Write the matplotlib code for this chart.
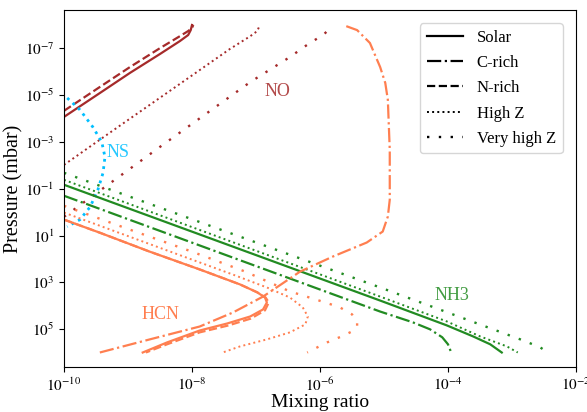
import numpy as np
import matplotlib
matplotlib.use("Agg")
import matplotlib.pyplot as plt
from matplotlib.lines import Line2D

plt.rcParams['font.family'] = ['Liberation Serif', 'DejaVu Serif']
plt.rcParams['mathtext.fontset'] = 'stix'

# curves, as log10(mixing ratio) and log10(pressure / mbar)
# NO
no_solar_x = [-10.0, -9.44, -8.97, -8.50, -8.19, -8.06, -8.02, -8.00]
no_solar_p = [-4.07, -5.09, -5.95, -6.76, -7.31, -7.57, -7.78, -8.00]
no_nrich_x = [-10.0, -9.44, -8.97, -8.50, -8.19, -8.06, -8.00, -7.98]
no_nrich_p = [-4.33, -5.35, -6.20, -7.01, -7.52, -7.74, -7.87, -8.00]
no_highz_x = [-10.0, -9.13, -8.19, -7.41, -7.09, -6.98, -6.94]
no_highz_p = [-2.02, -3.69, -5.48, -6.97, -7.52, -7.74, -8.00]
no_vhighz_x = [-10.0, -8.50, -7.09, -6.47, -6.16, -5.95, -5.84, -5.83]
no_vhighz_p = [0.20, -2.79, -5.56, -6.63, -7.23, -7.57, -7.87, -8.00]

# NS
ns_x = [-9.95, -9.75, -9.55, -9.41, -9.36, -9.39, -9.47, -9.59, -9.75, -9.95]
ns_p = [-4.88, -4.37, -3.64, -3.00, -2.36, -1.68, -0.96, -0.23, 0.32, 0.62]

# NH3
nh3_solar_x = [-10.0, -5.06, -4.02, -3.61, -3.34, -3.16]
nh3_solar_p = [-1.17, 3.78, 4.84, 5.31, 5.65, 6.00]
nh3_crich_x = [-10.0, -5.06, -4.55, -4.28, -4.09, -4.00, -3.95]
nh3_crich_p = [-0.70, 4.25, 4.71, 5.01, 5.35, 5.65, 6.00]
nh3_highz_x = [-10.0, -5.06, -4.02, -3.50, -3.08, -2.91]
nh3_highz_p = [-1.38, 3.61, 4.67, 5.31, 5.74, 6.00]
nh3_vhighz_x = [-10.0, -5.02, -3.63, -2.83, -2.56, -2.44]
nh3_vhighz_p = [-1.68, 3.26, 4.67, 5.48, 5.78, 6.00]

# HCN
hcn_solar_x = [-10.0, -9.44, -8.66, -7.88, -7.25, -6.98, -6.86, -6.83,
               -6.89, -7.09, -7.45, -7.88, -8.39, -8.77]
hcn_solar_p = [0.32, 0.88, 1.69, 2.45, 3.09, 3.43, 3.65, 3.86,
               4.16, 4.46, 4.76, 5.06, 5.57, 6.00]
hcn_nrich_x = [-10.0, -9.44, -8.66, -7.88, -7.25, -6.98, -6.85, -6.80,
               -6.86, -7.08, -7.44, -7.88, -8.39, -8.72]
hcn_nrich_p = [0.32, 0.88, 1.69, 2.45, 3.09, 3.43, 3.65, 3.86,
               4.20, 4.55, 4.85, 5.14, 5.65, 6.00]
hcn_crich_x = [-9.44, -8.66, -7.88, -7.36, -6.89, -6.31, -5.80, -5.27, -5.02,
               -4.94, -4.91, -4.91, -4.94, -4.98, -5.06, -5.22, -5.42, -5.64]
hcn_crich_p = [6.00, 5.44, 4.89, 4.29, 3.61, 2.54, 1.90, 1.30, 0.83,
               0.19, -0.53, -2.66, -4.80, -5.52, -6.20, -7.23, -7.78, -8.00]
hcn_highz_x = [-10.0, -7.88, -7.36, -6.83, -6.47, -6.27, -6.19, -6.23,
               -6.47, -6.83, -7.25, -7.52]
hcn_highz_p = [0.02, 2.15, 2.67, 3.22, 3.65, 4.07, 4.46, 4.80,
               5.14, 5.44, 5.74, 6.00]
hcn_vhighz_x = [-10.0, -8.97, -8.00, -7.17, -6.47, -5.92, -5.69, -5.50,
                -5.42, -5.42, -5.50, -5.66, -5.89, -6.20]
hcn_vhighz_p = [-0.27, 0.75, 1.69, 2.54, 3.39, 3.86, 4.07, 4.37,
                4.67, 4.89, 5.10, 5.31, 5.57, 6.00]

c_no = '#a52a2a'
c_ns = '#00bfff'
c_nh3 = '#228b22'
c_hcn = '#ff7f50'

styles = {
    'Solar': dict(ls='-', lw=1.6),
    'C-rich': dict(ls='-.', lw=1.6),
    'N-rich': dict(ls='--', lw=1.6),
    'High Z': dict(ls=':', lw=1.4),
    'Very high Z': dict(ls=(0, (1, 4)), lw=1.7),
}

curves = [
    (no_solar_x, no_solar_p, c_no, 'Solar'),
    (no_nrich_x, no_nrich_p, c_no, 'N-rich'),
    (no_highz_x, no_highz_p, c_no, 'High Z'),
    (no_vhighz_x, no_vhighz_p, c_no, 'Very high Z'),
    (ns_x, ns_p, c_ns, 'High Z'),
    (nh3_solar_x, nh3_solar_p, c_nh3, 'Solar'),
    (nh3_crich_x, nh3_crich_p, c_nh3, 'C-rich'),
    (nh3_highz_x, nh3_highz_p, c_nh3, 'High Z'),
    (nh3_vhighz_x, nh3_vhighz_p, c_nh3, 'Very high Z'),
    (hcn_solar_x, hcn_solar_p, c_hcn, 'Solar'),
    (hcn_nrich_x, hcn_nrich_p, c_hcn, 'N-rich'),
    (hcn_crich_x, hcn_crich_p, c_hcn, 'C-rich'),
    (hcn_highz_x, hcn_highz_p, c_hcn, 'High Z'),
    (hcn_vhighz_x, hcn_vhighz_p, c_hcn, 'Very high Z'),
]

fig = plt.figure(figsize=(5.87, 4.12), dpi=100)
ax = fig.add_axes([64 / 587, 1 - 367 / 412, 512 / 587, 357 / 412])

for lx, lp, col, case in curves:
    st = styles[case]
    width = 2.0 if col == c_ns else st['lw']
    ax.plot(10 ** np.array(lx), 10 ** np.array(lp), color=col,
            ls=st['ls'], lw=width)

# species labels
ax.text(10 ** -6.66, 10 ** -5.14, 'NO', color=c_no, alpha=0.85, fontsize=13,
        ha='center', va='center')
ax.text(10 ** -9.16, 10 ** -2.54, 'NS', color=c_ns, alpha=0.85, fontsize=13,
        ha='center', va='center')
ax.text(10 ** -8.5, 10 ** 4.37, 'HCN', color=c_hcn, fontsize=13,
        ha='center', va='center')
ax.text(10 ** -3.94, 10 ** 3.56, 'NH3', color=c_nh3, alpha=0.85, fontsize=13,
        ha='center', va='center')

ax.set_xscale('log')
ax.set_yscale('log')
ax.set_xlim(1e-10, 1e-2)
ax.set_ylim(10 ** 6.62, 10 ** -8.64)
ax.set_xticks([1e-10, 1e-8, 1e-6, 1e-4, 1e-2])
ax.set_xticklabels([r'$10^{-10}$', r'$10^{-8}$', r'$10^{-6}$', r'$10^{-4}$', r'$10^{-2}$'])
ax.set_yticks([1e-7, 1e-5, 1e-3, 1e-1, 1e1, 1e3, 1e5])
ax.set_yticklabels([r'$10^{-7}$', r'$10^{-5}$', r'$10^{-3}$', r'$10^{-1}$',
                    r'$10^{1}$', r'$10^{3}$', r'$10^{5}$'])
ax.minorticks_off()
ax.tick_params(labelsize=11)
ax.set_xlabel('Mixing ratio', fontsize=14, labelpad=0)
ax.set_ylabel('Pressure (mbar)', fontsize=14.5, labelpad=1)

handles = [Line2D([], [], color='black', ls=styles[k]['ls'], lw=styles[k]['lw'])
           for k in styles]
ax.legend(handles, list(styles.keys()), loc='upper right', fontsize=12,
          handlelength=2.2, handletextpad=0.8, labelspacing=0.55,
          borderaxespad=0.8)

fig.savefig('out.png', dpi=100)
